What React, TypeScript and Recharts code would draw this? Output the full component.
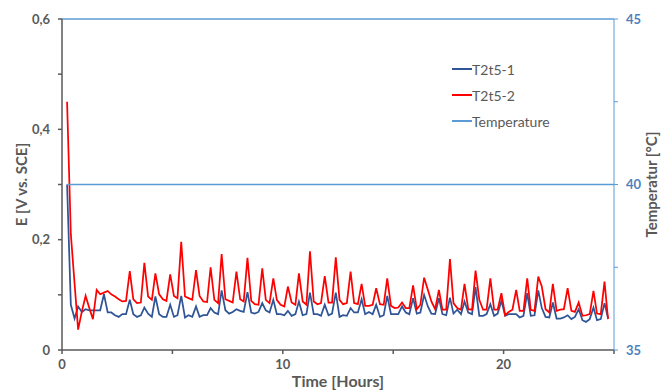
import { ComposedChart, Line, XAxis, YAxis, ReferenceLine } from 'recharts';

// time of each reading, hours (10 min steps)
const hours = [
  0.23, 0.4, 0.57, 0.73, 0.9,
  1.07, 1.23, 1.4, 1.57, 1.73, 1.9,
  2.07, 2.23, 2.4, 2.57, 2.73, 2.9,
  3.07, 3.23, 3.4, 3.57, 3.73, 3.9,
  4.07, 4.23, 4.4, 4.57, 4.73, 4.9,
  5.07, 5.23, 5.4, 5.57, 5.73, 5.9,
  6.07, 6.23, 6.4, 6.57, 6.73, 6.9,
  7.07, 7.23, 7.4, 7.57, 7.73, 7.9,
  8.07, 8.23, 8.4, 8.57, 8.73, 8.9,
  9.07, 9.23, 9.4, 9.57, 9.73, 9.9,
  10.07, 10.23, 10.4, 10.57, 10.73, 10.9,
  11.07, 11.23, 11.4, 11.57, 11.73, 11.9,
  12.07, 12.23, 12.4, 12.57, 12.73, 12.9,
  13.07, 13.23, 13.4, 13.57, 13.73, 13.9,
  14.07, 14.23, 14.4, 14.57, 14.73, 14.9,
  15.07, 15.23, 15.4, 15.57, 15.73, 15.9,
  16.07, 16.23, 16.4, 16.57, 16.73, 16.9,
  17.07, 17.23, 17.4, 17.57, 17.73, 17.9,
  18.07, 18.23, 18.4, 18.57, 18.73, 18.9,
  19.07, 19.23, 19.4, 19.57, 19.73, 19.9,
  20.07, 20.23, 20.4, 20.57, 20.73, 20.9,
  21.07, 21.23, 21.4, 21.57, 21.73, 21.9,
  22.07, 22.23, 22.4, 22.57, 22.73, 22.9,
  23.07, 23.23, 23.4, 23.57, 23.73, 23.9,
  24.07, 24.23, 24.4, 24.57, 24.73,
];

// E [V vs. SCE]
const t2t5_1 = [
  0.3, 0.082, 0.057, 0.079, 0.069, 0.074, 0.072, 0.072, 0.072, 0.072,
  0.101, 0.068, 0.068, 0.063, 0.06, 0.065, 0.065, 0.091, 0.065, 0.06,
  0.063, 0.077, 0.066, 0.06, 0.097, 0.065, 0.06, 0.06, 0.082, 0.06,
  0.063, 0.098, 0.059, 0.063, 0.06, 0.079, 0.06, 0.063, 0.063, 0.076,
  0.068, 0.065, 0.108, 0.072, 0.066, 0.069, 0.074, 0.071, 0.069, 0.105,
  0.068, 0.066, 0.069, 0.085, 0.072, 0.068, 0.091, 0.065, 0.065, 0.063,
  0.071, 0.062, 0.065, 0.088, 0.063, 0.065, 0.104, 0.065, 0.065, 0.062,
  0.082, 0.063, 0.066, 0.104, 0.06, 0.063, 0.062, 0.076, 0.068, 0.068,
  0.092, 0.065, 0.069, 0.065, 0.082, 0.06, 0.063, 0.098, 0.065, 0.065,
  0.065, 0.079, 0.068, 0.065, 0.094, 0.066, 0.068, 0.1, 0.079, 0.066,
  0.065, 0.094, 0.065, 0.063, 0.095, 0.066, 0.073, 0.065, 0.088, 0.068,
  0.065, 0.114, 0.062, 0.062, 0.065, 0.083, 0.062, 0.066, 0.089, 0.062,
  0.065, 0.065, 0.065, 0.059, 0.062, 0.103, 0.062, 0.063, 0.108, 0.076,
  0.06, 0.059, 0.086, 0.057, 0.057, 0.059, 0.063, 0.056, 0.06, 0.074,
  0.054, 0.051, 0.056, 0.077, 0.054, 0.056, 0.085, 0.058,
];

const t2t5_2 = [
  0.45, 0.21, 0.12, 0.037, 0.07, 0.098, 0.077, 0.056, 0.109, 0.101,
  0.104, 0.107, 0.101, 0.097, 0.092, 0.088, 0.089, 0.143, 0.092, 0.085,
  0.086, 0.158, 0.097, 0.091, 0.139, 0.101, 0.092, 0.089, 0.137, 0.098,
  0.094, 0.196, 0.097, 0.094, 0.091, 0.145, 0.098, 0.088, 0.087, 0.15,
  0.091, 0.085, 0.174, 0.092, 0.089, 0.086, 0.142, 0.092, 0.088, 0.167,
  0.089, 0.083, 0.082, 0.148, 0.091, 0.085, 0.13, 0.091, 0.082, 0.079,
  0.115, 0.086, 0.082, 0.139, 0.088, 0.082, 0.179, 0.088, 0.083, 0.085,
  0.134, 0.086, 0.086, 0.168, 0.091, 0.083, 0.085, 0.142, 0.085, 0.083,
  0.12, 0.08, 0.08, 0.082, 0.112, 0.083, 0.082, 0.13, 0.08, 0.076,
  0.077, 0.086, 0.076, 0.076, 0.117, 0.074, 0.082, 0.131, 0.109, 0.088,
  0.074, 0.109, 0.073, 0.073, 0.165, 0.085, 0.076, 0.073, 0.12, 0.074,
  0.073, 0.144, 0.091, 0.073, 0.073, 0.13, 0.073, 0.073, 0.103, 0.063,
  0.069, 0.073, 0.109, 0.071, 0.071, 0.13, 0.073, 0.071, 0.133, 0.115,
  0.074, 0.068, 0.12, 0.071, 0.073, 0.074, 0.112, 0.071, 0.069, 0.086,
  0.062, 0.063, 0.065, 0.107, 0.066, 0.065, 0.124, 0.056,
];

// temperature [°C]
const tempHours = [0.23, 25];
const tempValues = [40, 40];

const eTicks = [0, 0.1, 0.2, 0.3, 0.4, 0.5, 0.6];
const tempTicks = [35, 37.5, 40, 42.5, 45];
const timeTicks = [0, 5, 10, 15, 20, 25];

const GREY = '#595959';
const DARK_BLUE = '#2f5597';
const RED = '#ff0000';
const LIGHT_BLUE = '#5b9bd5';
const FONT = 'Lato, "Open Sans", sans-serif';

const rows = hours.map((t, i) => ({ t, e1: t2t5_1[i], e2: t2t5_2[i] }));
const tempRows = tempHours.map((t, i) => ({ t, temp: tempValues[i] }));

const legendItems = [
  { name: 'T2t5-1', color: DARK_BLUE },
  { name: 'T2t5-2', color: RED },
  { name: 'Temperature', color: LIGHT_BLUE },
];

// legend sits inside the plot, top right
function ChartLegend() {
  return (
    <div style={{ position: 'absolute', left: 452, top: 56, fontFamily: FONT, fontSize: 14, color: GREY }}>
      {legendItems.map((item) => (
        <div key={item.name} style={{ display: 'flex', alignItems: 'center', height: 26 }}>
          <span style={{ display: 'inline-block', width: 20, height: 2, background: item.color }} />
          <span>{item.name}</span>
        </div>
      ))}
    </div>
  );
}

const tickStyle = { fill: GREY, fontSize: 13, fontWeight: 'bold', fontFamily: FONT };

export default function App() {
  return (
    <div style={{ position: 'absolute', left: 0, top: 0, width: 661, height: 392, background: '#fff' }}>
      <ComposedChart width={661} height={392} margin={{ top: 19, right: 0, bottom: 0, left: 0 }}>
        <XAxis
          dataKey="t"
          type="number"
          domain={[0, 25]}
          ticks={timeTicks}
          allowDuplicatedCategory={false}
          tickFormatter={(v: number) => (v % 10 === 0 ? String(v) : '')}
          stroke={GREY}
          strokeWidth={1.5}
          tickSize={4}
          tickMargin={6}
          tick={tickStyle}
          height={42}
          label={{ value: 'Time [Hours]', position: 'insideBottom', offset: 5, fill: GREY, fontSize: 16, fontWeight: 'bold', fontFamily: FONT }}
        />
        <YAxis
          yAxisId="left"
          domain={[0, 0.6]}
          ticks={eTicks}
          tickFormatter={(v: number) => (Math.round(v * 10) % 2 === 0 ? (v === 0 ? '0' : v.toFixed(1).replace('.', ',')) : '')}
          stroke={GREY}
          strokeWidth={1.5}
          tickSize={4}
          tickMargin={8}
          tick={tickStyle}
          width={62}
          label={{ value: 'E [V vs. SCE]', angle: -90, position: 'insideLeft', offset: 22, fill: GREY, fontSize: 15, fontWeight: 'bold', fontFamily: FONT, style: { textAnchor: 'middle' } }}
        />
        <YAxis
          yAxisId="right"
          orientation="right"
          domain={[35, 45]}
          ticks={tempTicks}
          tickFormatter={(v: number) => (v % 5 === 0 ? String(v) : '')}
          stroke={LIGHT_BLUE}
          tickSize={4}
          tickMargin={8}
          tick={{ ...tickStyle, fill: '#4f81bd' }}
          width={47}
          label={{ value: 'Temperatur [°C]', angle: -90, position: 'insideRight', offset: 9, fill: GREY, fontSize: 15, fontWeight: 'bold', fontFamily: FONT, style: { textAnchor: 'middle' } }}
        />
        <ReferenceLine yAxisId="right" y={45} stroke={LIGHT_BLUE} strokeWidth={1.5} />
        <Line
          yAxisId="left"
          data={rows}
          dataKey="e1"
          name="T2t5-1"
          stroke={DARK_BLUE}
          strokeWidth={1.75}
          dot={false}
          isAnimationActive={false}
        />
        <Line
          yAxisId="left"
          data={rows}
          dataKey="e2"
          name="T2t5-2"
          stroke={RED}
          strokeWidth={1.75}
          dot={false}
          isAnimationActive={false}
        />
        <Line
          yAxisId="right"
          data={tempRows}
          dataKey="temp"
          name="Temperature"
          stroke={LIGHT_BLUE}
          strokeWidth={1.5}
          dot={false}
          isAnimationActive={false}
        />
      </ComposedChart>
      <ChartLegend />
    </div>
  );
}
